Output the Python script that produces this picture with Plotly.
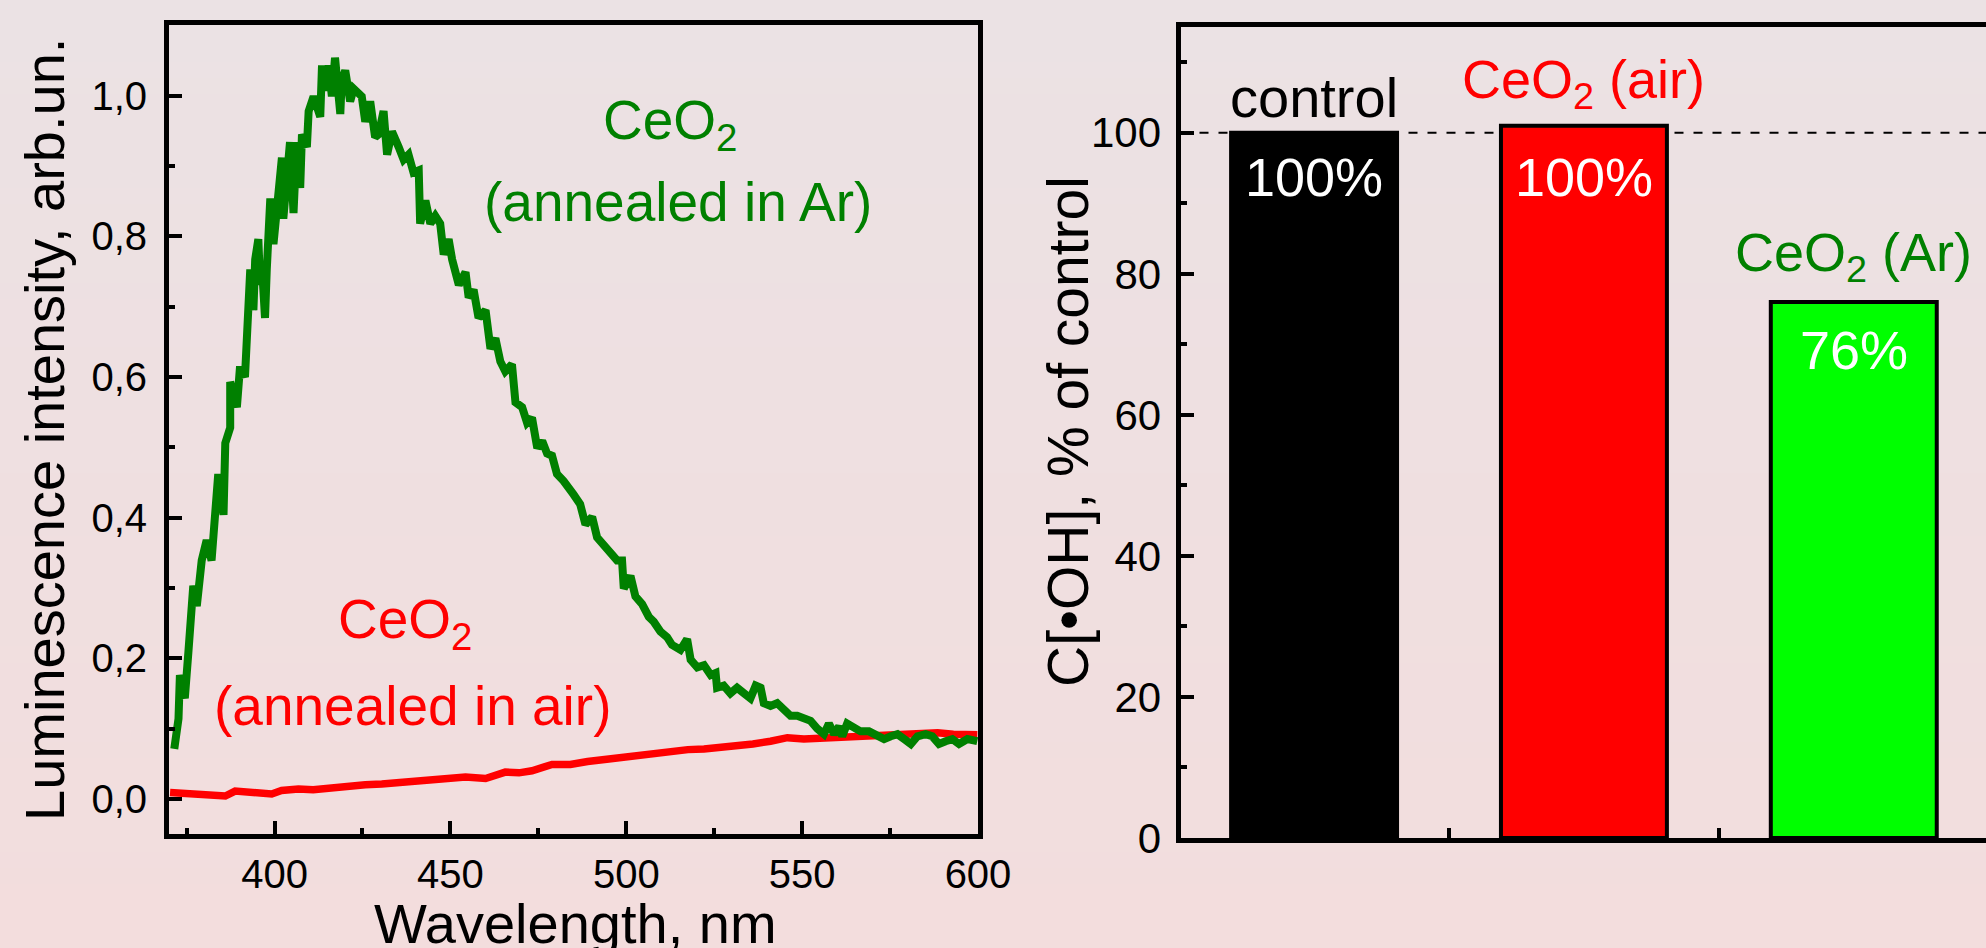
import plotly.graph_objects as go

# ---------------- data ----------------
wl_ar = [371.5, 372.7, 373.1, 374.5, 375.5, 376.9, 377.9, 379.3, 380.7, 382.1, 383.1, 384.0, 385.5,
         386.0, 387.4, 387.4, 389.3, 390.2, 391.6, 392.1, 393.1, 394.0, 394.5, 395.4, 395.9, 396.4,
         397.3, 397.8, 398.8, 399.7, 401.1, 402.1, 402.5, 403.5, 404.4, 405.4, 406.3, 407.3, 407.8,
         409.2, 409.7, 411.1, 413.0, 413.5, 414.4, 415.4, 416.3, 417.2, 418.2, 418.7, 419.1, 420.1,
         421.5, 422.5, 424.8, 425.8, 427.2, 428.6, 429.6, 431.0, 432.0, 433.4, 435.3, 436.7, 438.1,
         439.5, 441.0, 441.4, 442.9, 444.3, 445.7, 447.1, 448.1, 449.5, 450.5, 452.4, 454.3, 455.2,
         456.6, 458.0, 460.0, 461.4, 462.8, 464.2, 465.6, 467.5, 468.5, 470.4, 471.8, 473.2, 474.7,
         476.1, 477.5, 478.9, 480.3, 482.2, 485.0, 486.9, 488.4, 490.3, 491.7, 493.6, 495.5, 497.4,
         498.8, 499.3, 501.2, 502.6, 504.5, 506.4, 507.8, 509.7, 511.6, 513.0, 515.4, 517.3, 518.3,
         520.2, 522.1, 524.0, 525.4, 525.8, 527.7, 529.6, 531.5, 533.4, 535.3, 536.8, 538.2, 539.1,
         541.0, 542.9, 544.8, 546.7, 548.6, 550.5, 552.4, 554.3, 556.2, 557.6, 559.1, 560.5, 561.4,
         562.8, 564.7, 566.6, 569.0, 570.9, 573.3, 575.2, 577.1, 579.0, 580.9, 582.8, 585.1, 587.0,
         588.9, 590.8, 592.7, 594.6, 597.0, 599.8]
int_ar = [0.071, 0.114, 0.176, 0.143, 0.208, 0.303, 0.274, 0.339, 0.368, 0.339, 0.404, 0.462, 0.404,
          0.506, 0.528, 0.593, 0.557, 0.615, 0.600, 0.680, 0.753, 0.695, 0.767, 0.796, 0.731, 0.760,
          0.684, 0.753, 0.854, 0.789, 0.862, 0.912, 0.825, 0.891, 0.934, 0.833, 0.934, 0.869, 0.945,
          0.927, 0.978, 0.999, 0.970, 1.043, 1.007, 1.043, 0.999, 1.054, 1.014, 0.974, 1.021, 1.036,
          0.992, 1.010, 0.999, 0.963, 0.992, 0.941, 0.945, 0.978, 0.916, 0.949, 0.927, 0.909, 0.916,
          0.891, 0.894, 0.818, 0.851, 0.818, 0.829, 0.818, 0.774, 0.796, 0.767, 0.731, 0.749, 0.713,
          0.724, 0.684, 0.695, 0.640, 0.655, 0.622, 0.608, 0.618, 0.564, 0.557, 0.535, 0.542, 0.499,
          0.509, 0.491, 0.488, 0.462, 0.452, 0.433, 0.419, 0.390, 0.401, 0.372, 0.361, 0.354, 0.339,
          0.339, 0.299, 0.317, 0.288, 0.277, 0.259, 0.252, 0.238, 0.230, 0.219, 0.212, 0.227, 0.198,
          0.187, 0.190, 0.176, 0.179, 0.158, 0.161, 0.150, 0.158, 0.150, 0.143, 0.161, 0.158, 0.136,
          0.132, 0.136, 0.125, 0.118, 0.118, 0.114, 0.111, 0.100, 0.092, 0.107, 0.092, 0.103, 0.089,
          0.107, 0.103, 0.096, 0.096, 0.092, 0.085, 0.089, 0.092, 0.085, 0.078, 0.089, 0.092, 0.089,
          0.078, 0.082, 0.085, 0.078, 0.085, 0.082]

wl_air = [370.3, 376.5, 381.2, 386.0, 388.8, 399.2, 402.0, 406.8, 411.0, 416.3, 421.0, 425.8, 430.5,
          435.3, 440.0, 444.8, 449.5, 454.3, 460.0, 465.6, 469.5, 473.2, 478.9, 484.1, 489.0, 493.6,
          498.5, 503.1, 508.0, 512.6, 517.5, 522.1, 527.0, 531.5, 536.0, 541.0, 545.8, 550.5, 555.0,
          560.0, 565.0, 569.5, 574.0, 579.0, 584.0, 588.5, 593.0, 597.9, 599.8]
int_air = [0.009, 0.007, 0.007, 0.004, 0.011, 0.007, 0.012, 0.014, 0.013, 0.016, 0.017, 0.020, 0.021,
           0.023, 0.025, 0.027, 0.030, 0.031, 0.029, 0.038, 0.037, 0.040, 0.049, 0.049, 0.053, 0.056,
           0.057, 0.060, 0.064, 0.067, 0.070, 0.071, 0.073, 0.074, 0.078, 0.082, 0.087, 0.085, 0.086,
           0.087, 0.088, 0.089, 0.090, 0.091, 0.092, 0.094, 0.092, 0.092, 0.091]

x_ticks_left = [400, 450, 500, 550, 600]
x_minor_left = [375, 425, 475, 525, 575]
y_ticks_left = [0.0, 0.2, 0.4, 0.6, 0.8, 1.0]
y_ticktext_left = ["0,0", "0,2", "0,4", "0,6", "0,8", "1,0"]
y_minor_left = [0.1, 0.3, 0.5, 0.7, 0.9]

bar_categories = ["control", "CeO2 (air)", "CeO2 (Ar)"]
bar_values = [100, 101, 76]
bar_labels = ["100%", "100%", "76%"]
bar_titles = ["control", "CeO<sub>2</sub> (air)", "CeO<sub>2</sub> (Ar)"]
bar_title_colors = ["#000000", "#ff0000", "#008000"]
bar_colors = ["#000000", "#ff0000", "#00ff00"]
y_ticks_right = [0, 20, 40, 60, 80, 100]
y_minor_right = [10, 30, 50, 70, 90, 110]
reference_level = 100

FONT = "Liberation Sans, Arial, sans-serif"
W, H = 1986, 948

fig = go.Figure()
fig.add_trace(go.Scatter(x=wl_air, y=int_air, mode="lines",
                         line=dict(color="#ff0000", width=7.5), xaxis="x", yaxis="y"))
fig.add_trace(go.Scatter(x=wl_ar, y=int_ar, mode="lines",
                         line=dict(color="#008000", width=8), xaxis="x", yaxis="y"))
fig.add_trace(go.Bar(x=bar_categories, y=bar_values, width=0.615,
                     marker=dict(color=bar_colors, line=dict(color="#000000", width=4)),
                     xaxis="x2", yaxis="y2"))

axis_common = dict(showline=True, mirror=True, linecolor="#000000", linewidth=5,
                   ticks="inside", tickcolor="#000000", tickwidth=4, ticklen=13,
                   showgrid=False, zeroline=False, automargin=False)

# background gradient (styling)
shapes = []
n = 60
top = (235, 226, 228)
bot = (243, 221, 221)
for i in range(n):
    t = i / (n - 1)
    c = tuple(round(top[k] + (bot[k] - top[k]) * t) for k in range(3))
    shapes.append(dict(type="rect", xref="paper", yref="paper", x0=-0.01, x1=1.01,
                       y0=1 - (i + 1) / n - 0.001, y1=1 - i / n + 0.001, layer="below",
                       line=dict(width=0), fillcolor="rgb(%d,%d,%d)" % c))
shapes.append(dict(type="line", xref="x2 domain", yref="y2", x0=0, x1=1,
                   y0=reference_level, y1=reference_level, layer="below",
                   line=dict(color="#000000", width=2, dash="9px,10px")))

annotations = []
def ann(text, x, y, size, color="#000000", xref="paper", yref="paper", angle=0):
    annotations.append(dict(text=text, x=x, y=y, xref=xref, yref=yref, showarrow=False,
                            xanchor="center", yanchor="middle", textangle=angle,
                            font=dict(family=FONT, size=size, color=color)))

# axis titles
ann("Luminescence intensity, arb.un.", 44 / W, 1 - 430 / H, 56, angle=-90)
ann("Wavelength, nm", 575 / W, 1 - 923 / H, 56)
ann("C[•OH], % of control", 1068 / W, 1 - 432 / H, 57, angle=-90)

# left panel labels
ann("CeO<sub>2</sub>", 512.6, 0.960, 55, "#008000", "x", "y")
ann("(annealed in Ar)", 514.8, 0.849, 55, "#008000", "x", "y")
ann("CeO<sub>2</sub>", 437.2, 0.250, 55, "#ff0000", "x", "y")
ann("(annealed in air)", 439.3, 0.132, 55, "#ff0000", "x", "y")

# right panel labels
title_y = [105.0, 107.0, 82.5]
for cat, t, col, ty in zip(bar_categories, bar_titles, bar_title_colors, title_y):
    ann(t, cat, ty, 56 if cat == "control" else 54, col, "x2", "y2")
label_y = [93.8, 93.8, 69.2]
for cat, lab, ly in zip(bar_categories, bar_labels, label_y):
    ann(lab, cat, ly, 54, "#ffffff", "x2", "y2")

fig.update_layout(
    template="none",
    width=W, height=H, autosize=False,
    margin=dict(l=0, r=0, t=0, b=0, pad=0, autoexpand=False),
    paper_bgcolor="rgb(239,224,225)",
    plot_bgcolor="rgba(0,0,0,0)",
    showlegend=False,
    font=dict(family=FONT, color="#000000"),
    shapes=shapes,
    annotations=annotations,
    xaxis=dict(domain=[169 / W, 978 / W], range=[370, 600], anchor="y",
               tickvals=x_ticks_left, tickfont=dict(size=40), ticklabelstandoff=1,
               minor=dict(tickvals=x_minor_left, ticks="inside", ticklen=6,
                          tickwidth=4, tickcolor="#000000"),
               **axis_common),
    yaxis=dict(domain=[1 - 834 / H, 1 - 25.4 / H], range=[-0.05, 1.1], anchor="x",
               tickvals=y_ticks_left, ticktext=y_ticktext_left, tickfont=dict(size=40),
               ticklabelstandoff=9,
               minor=dict(tickvals=y_minor_left, ticks="inside", ticklen=6,
                          tickwidth=4, tickcolor="#000000"),
               **axis_common),
    xaxis2=dict(domain=[1180.5 / W, 1.0], type="category", range=[-0.495, 2.49],
                anchor="y2", tickson="boundaries", showticklabels=False,
                **{**axis_common, "ticklen": 10}),
    yaxis2=dict(domain=[1 - 838 / H, 1 - 27 / H], range=[0, 115], anchor="x2",
                tickvals=y_ticks_right, tickfont=dict(size=42), ticklabelstandoff=6,
                minor=dict(tickvals=y_minor_right, ticks="inside", ticklen=6,
                           tickwidth=4, tickcolor="#000000"),
                **{**axis_common, "mirror": False}),
    bargap=0.385,
)

post = ("document.documentElement.style.margin='0';document.body.style.margin='0';"
        "document.body.style.padding='0';document.body.style.overflow='hidden';"
        "document.documentElement.style.overflow='hidden';")
fig.write_html("out.html", post_script=post)
